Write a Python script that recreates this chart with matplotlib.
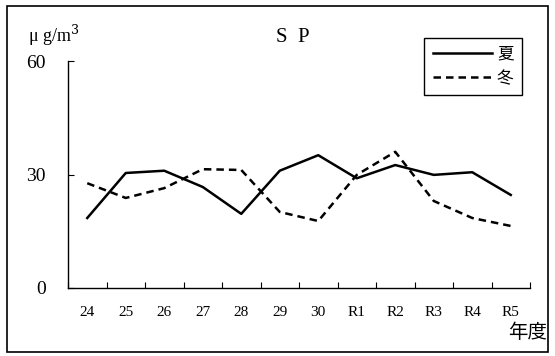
import matplotlib
matplotlib.use('Agg')
import matplotlib.pyplot as plt
from matplotlib.patches import Rectangle
import numpy as np

plt.rcParams['font.family'] = ['Liberation Serif', 'Noto Sans CJK JP', 'DejaVu Sans']

years = ['24', '25', '26', '27', '28', '29', '30', 'R1', 'R2', 'R3', 'R4', 'R5']
summer = [18.5, 30.4, 31.0, 26.7, 19.6, 31.0, 35.1, 29.0, 32.5, 29.9, 30.6, 24.6]
winter = [27.7, 23.8, 26.4, 31.4, 31.2, 20.1, 17.7, 29.9, 36.0, 23.0, 18.5, 16.4]
yticks = [0, 30, 60]

fig = plt.figure(figsize=(5.55, 3.56), dpi=100)
ax = fig.add_axes([68 / 555, 1 - 288 / 356, 462 / 555, 227 / 356])

x = np.arange(len(years))
ax.plot(x, summer, color='black', lw=1.8, label='夏')
ax.plot(x, winter, color='black', lw=1.8, ls=(0, (3, 2)), label='冬')

ax.set_xlim(-0.5, len(years) - 0.5)
ax.set_ylim(0, 60)
for s in ['top', 'right']:
    ax.spines[s].set_visible(False)
ax.spines['left'].set_linewidth(1.0)
ax.spines['bottom'].set_linewidth(1.0)

ax.set_yticks(yticks)
ax.set_yticklabels([str(v) for v in yticks], fontsize=14)
ax.tick_params(axis='y', direction='in', length=4, pad=16)

# ticks on the category boundaries, labels in the middle
ax.set_xticks(np.arange(len(years) + 1) - 0.5)
ax.set_xticklabels([])
ax.set_xticks(x, minor=True)
ax.set_xticklabels(years, minor=True, fontsize=11)
ax.tick_params(axis='x', which='major', direction='in', length=4)
ax.tick_params(axis='x', which='minor', length=0, pad=13)

leg = ax.legend(loc='upper right', bbox_to_anchor=(522 / 555, 1 - 38 / 356),
                bbox_transform=fig.transFigure, fancybox=False, edgecolor='black',
                framealpha=1, fontsize=11, handlelength=3.9, handletextpad=0.3,
                borderpad=0.55, borderaxespad=0, labelspacing=0.55)
leg.get_frame().set_linewidth(1.0)
for t in leg.get_texts():
    t.set_fontsize(12)

fig.text(293 / 555, 1 - 37 / 356, 'S  P', ha='center', va='center', fontsize=15)
fig.text(28 / 555, 1 - 35 / 356, 'μ g/m$^3$', ha='left', va='center', fontsize=13,
         math_fontfamily='dejavuserif')
fig.text(528 / 555, 1 - 333 / 356, '年度', ha='center', va='center', fontsize=14)

fig.patches.append(Rectangle((7 / 555, 1 - 352 / 356), 541 / 555, 346 / 356,
                             transform=fig.transFigure, fill=False,
                             edgecolor='black', lw=1.2))

fig.savefig('out.png', dpi=100)
